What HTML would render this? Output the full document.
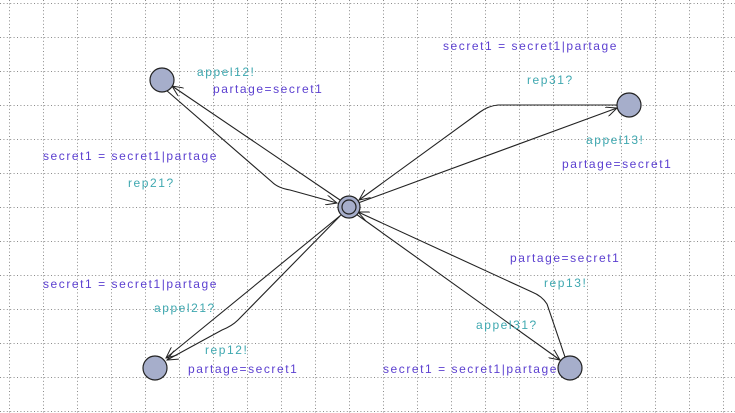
<!DOCTYPE html>
<html><head><style>
html,body{margin:0;padding:0;background:#fff;}
svg{display:block;}
text{font-family:"Liberation Sans",sans-serif;font-size:12px;letter-spacing:1.55px;dominant-baseline:middle;}
.p{fill:#5b3fd0;}
.t{fill:#3fa8b0;}
</style></head><body>
<svg width="735" height="413" viewBox="0 0 735 413" xmlns="http://www.w3.org/2000/svg">
<defs>
<pattern id="gv" x="9" y="0" width="34" height="3.4" patternUnits="userSpaceOnUse">
<rect x="0" y="0" width="1" height="1" fill="#8a8a8a"/>
</pattern>
<pattern id="gh" x="0" y="3" width="3.4" height="34" patternUnits="userSpaceOnUse">
<rect x="0" y="0" width="1" height="1" fill="#8a8a8a"/>
</pattern>
<marker id="a" markerWidth="12" markerHeight="10" refX="11" refY="5" orient="auto" markerUnits="userSpaceOnUse">
<path d="M0,0 L11,5 L0,10" fill="none" stroke="#222" stroke-width="1"/>
</marker>
</defs>
<rect width="735" height="413" fill="url(#gv)"/>
<rect width="735" height="413" fill="url(#gh)"/>
<g fill="none" stroke="#222" stroke-width="1.1">
<line x1="340" y1="200" x2="172" y2="86" marker-end="url(#a)"/>
<path d="M166,90 L272,182 Q278,188 290,190 L337,203" marker-end="url(#a)"/>
<path d="M617,105 L498,105 Q488,106 480,112 L359,200" marker-end="url(#a)"/>
<line x1="358" y1="203" x2="617" y2="108" marker-end="url(#a)"/>
<line x1="341" y1="215" x2="166" y2="358" marker-end="url(#a)"/>
<path d="M340,216 L238,320 Q232,326 222,330 L167,360" marker-end="url(#a)"/>
<line x1="356" y1="214" x2="560" y2="360" marker-end="url(#a)"/>
<path d="M565,357 L547,304 Q542,296 532,292 L358,212" marker-end="url(#a)"/>
</g>
<g fill="#a6aecb" stroke="#222" stroke-width="1.2">
<circle cx="162" cy="80" r="12"/>
<circle cx="629" cy="105" r="12"/>
<circle cx="155" cy="368" r="12"/>
<circle cx="570" cy="368" r="12"/>
<circle cx="349" cy="207" r="11"/>
<circle cx="349" cy="207" r="7"/>
</g>
<text class="t" x="197" y="73">appel12!</text>
<text class="p" x="213" y="90">partage=secret1</text>
<text class="p" x="43" y="157">secret1 = secret1|partage</text>
<text class="t" x="128" y="184">rep21?</text>
<text class="p" x="443" y="47">secret1 = secret1|partage</text>
<text class="t" x="527" y="81">rep31?</text>
<text class="t" x="586" y="141">appel13!</text>
<text class="p" x="562" y="165">partage=secret1</text>
<text class="p" x="510" y="259">partage=secret1</text>
<text class="t" x="544" y="284">rep13!</text>
<text class="p" x="43" y="285">secret1 = secret1|partage</text>
<text class="t" x="154" y="309">appel21?</text>
<text class="t" x="476" y="326">appel31?</text>
<text class="t" x="205" y="351">rep12!</text>
<text class="p" x="188" y="370">partage=secret1</text>
<text class="p" x="383" y="370">secret1 = secret1|partage</text>
</svg>
</body></html>
